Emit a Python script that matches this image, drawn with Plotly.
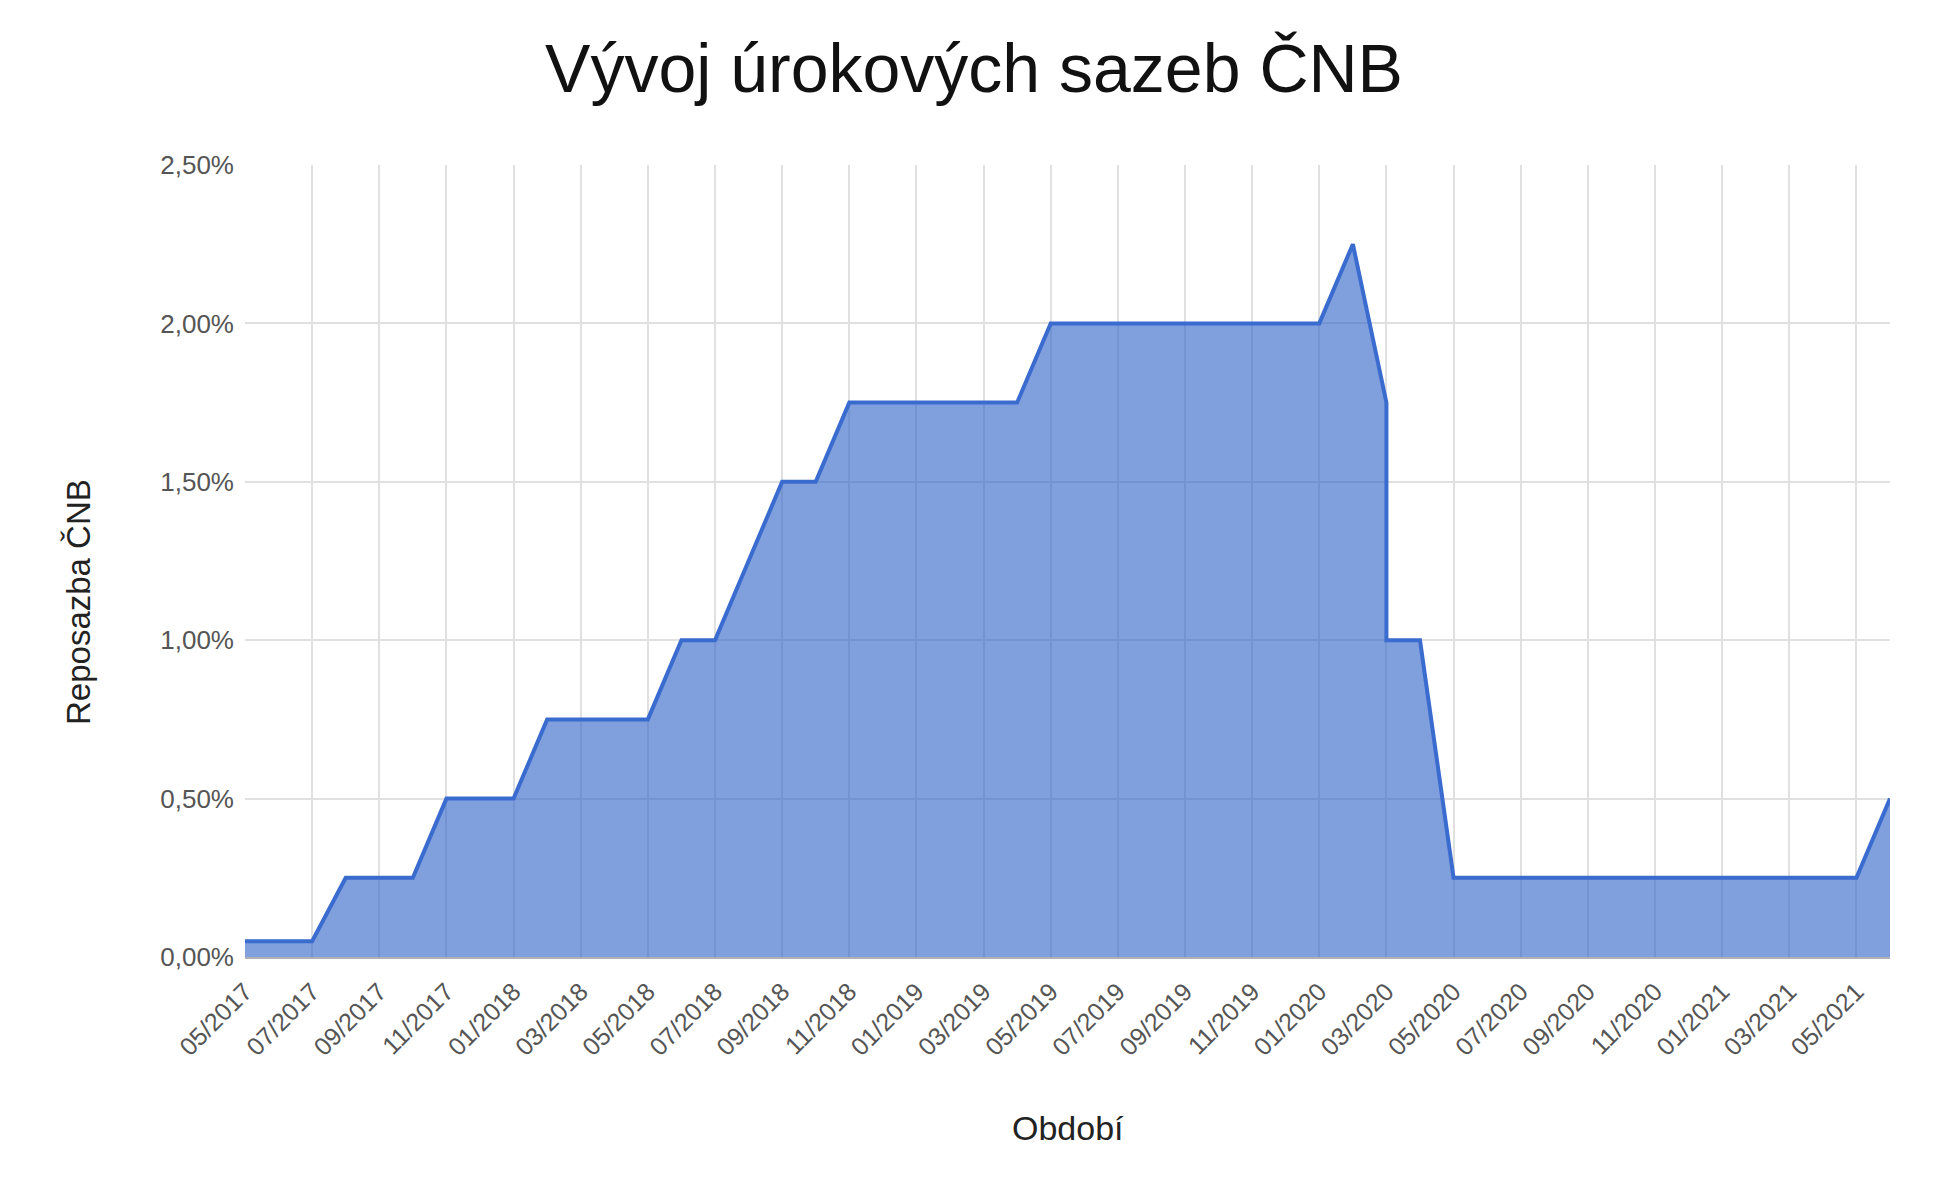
import plotly.graph_objects as go

# Category axis (months); "03/2020" appears twice (two rate changes in that month)
periods = [
    "05/2017", "06/2017", "07/2017", "08/2017", "09/2017", "10/2017", "11/2017", "12/2017",
    "01/2018", "02/2018", "03/2018", "04/2018", "05/2018", "06/2018", "07/2018", "08/2018",
    "09/2018", "10/2018", "11/2018", "12/2018",
    "01/2019", "02/2019", "03/2019", "04/2019", "05/2019", "06/2019", "07/2019", "08/2019",
    "09/2019", "10/2019", "11/2019", "12/2019",
    "01/2020", "02/2020", "03/2020", "03/2020", "04/2020", "05/2020", "06/2020", "07/2020",
    "08/2020", "09/2020", "10/2020", "11/2020", "12/2020",
    "01/2021", "02/2021", "03/2021", "04/2021", "05/2021", "06/2021",
]
repo_rate = [
    0.05, 0.05, 0.05, 0.25, 0.25, 0.25, 0.50, 0.50,
    0.50, 0.75, 0.75, 0.75, 0.75, 1.00, 1.00, 1.25,
    1.50, 1.50, 1.75, 1.75,
    1.75, 1.75, 1.75, 1.75, 2.00, 2.00, 2.00, 2.00,
    2.00, 2.00, 2.00, 2.00,
    2.00, 2.25, 1.75, 1.00, 1.00, 0.25, 0.25, 0.25,
    0.25, 0.25, 0.25, 0.25, 0.25,
    0.25, 0.25, 0.25, 0.25, 0.25, 0.50,
]
category_order = list(dict.fromkeys(periods))
x_tick_labels = [
    "05/2017", "07/2017", "09/2017", "11/2017", "01/2018", "03/2018", "05/2018",
    "07/2018", "09/2018", "11/2018", "01/2019", "03/2019", "05/2019", "07/2019",
    "09/2019", "11/2019", "01/2020", "03/2020", "05/2020", "07/2020", "09/2020",
    "11/2020", "01/2021", "03/2021", "05/2021",
]
y_ticks = [0, 0.5, 1.0, 1.5, 2.0, 2.5]
y_tick_labels = ["0,00%", "0,50%", "1,00%", "1,50%", "2,00%", "2,50%"]

FONT = "Liberation Sans, Arial, sans-serif"
W, H = 1932, 1170

fig = go.Figure()
fig.add_trace(go.Scatter(
    x=periods,
    y=repo_rate,
    mode="lines",
    fill="tozeroy",
    line=dict(color="#3a6bcf", width=4),
    fillcolor="rgba(50,100,200,0.62)",
    showlegend=False,
))

fig.update_layout(
    width=W,
    height=H,
    paper_bgcolor="white",
    plot_bgcolor="white",
    margin=dict(l=237, r=50, t=157, b=221),
    font=dict(family=FONT, color="#222"),
    title=dict(
        text="Vývoj úrokových sazeb ČNB",
        font=dict(family=FONT, size=68, color="#111"),
        x=0.5, xanchor="center",
        y=1 - 60 / H, yanchor="middle", yref="container",
    ),
    annotations=[
        dict(text="Reposazba ČNB", xref="paper", yref="paper",
             x=-(237 - 70) / (W - 237 - 50), y=(H - 221 - 594) / (H - 157 - 221),
             xanchor="center", yanchor="middle", textangle=-90, showarrow=False,
             font=dict(family=FONT, size=33, color="#222")),
        dict(text="Období", xref="paper", yref="paper",
             x=(1060 - 237) / (W - 237 - 50), y=-(1120 - (H - 221)) / (H - 157 - 221),
             xanchor="center", yanchor="middle", showarrow=False,
             font=dict(family=FONT, size=34, color="#222")),
    ],
)

fig.update_xaxes(
    type="category",
    categoryorder="array",
    categoryarray=category_order,
    range=[0, len(category_order) - 1],
    tickmode="array",
    tickvals=x_tick_labels,
    ticktext=x_tick_labels,
    tickangle=-45,
    tickfont=dict(family=FONT, size=25, color="#555"),
    ticklabelstandoff=8,
    showgrid=True,
    gridcolor="#e0e0e0",
    gridwidth=2,
    showline=True,
    linecolor="#b0b0b0",
    linewidth=2,
    ticks="",
)

fig.update_yaxes(
    range=[0, 2.5],
    tickmode="array",
    tickvals=y_ticks,
    ticktext=y_tick_labels,
    tickfont=dict(family=FONT, size=26, color="#555"),
    ticklabelstandoff=10,
    showgrid=True,
    gridcolor="#e0e0e0",
    gridwidth=2,
    zeroline=False,
    ticks="",
)

fig.write_html("out.html")
